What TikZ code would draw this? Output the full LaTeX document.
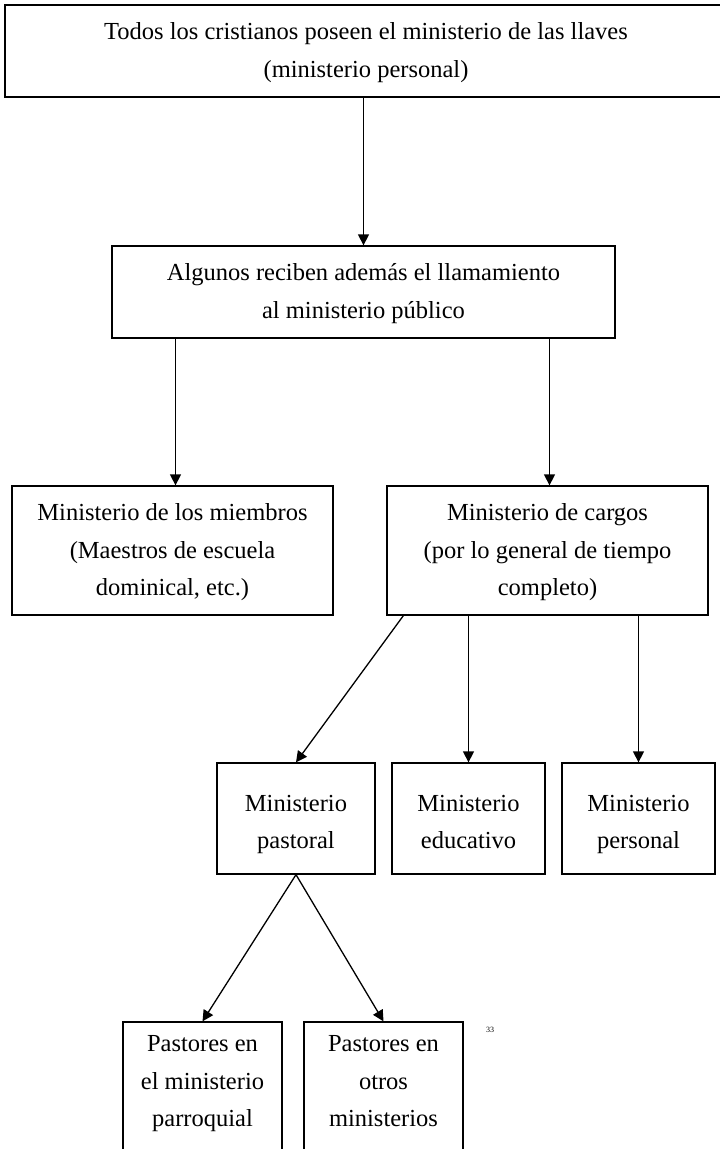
\documentclass[tikz,border=0pt]{standalone}
\usepackage{fontspec}
\setmainfont{Liberation Serif}
\usepackage{tikz}
\usetikzlibrary{arrows.meta,positioning,calc}

\begin{document}
\begin{tikzpicture}[x=1pt,y=-1pt,
    caja/.style={draw, line width=1.3pt, inner sep=0pt, align=center,
      font=\fontsize{24.5}{37.5}\selectfont},
    flecha/.style={line width=1.3pt, -{Triangle[length=11pt,width=11pt]}}]
  \useasboundingbox (0,0) rectangle (720,1149);
  \clip (0,0) rectangle (720,1149);

  \node[caja, minimum width=722pt, minimum height=92pt] (todos) at (366,51)
    {\strut Todos los cristianos poseen el ministerio de las llaves\\(ministerio personal)\strut};
  \node[caja, minimum width=503pt, minimum height=92pt] (alg) at (363.5,292)
    {\strut Algunos reciben además el llamamiento\\al ministerio público\strut};
  \node[caja, minimum width=321pt, minimum height=129pt] (miem) at (172.5,550.5)
    {\strut Ministerio de los miembros\\(Maestros de escuela\\dominical, etc.)\strut};
  \node[caja, minimum width=321pt, minimum height=129pt] (cargos) at (547.5,550.5)
    {\strut Ministerio de cargos\\(por lo general de tiempo\\completo)\strut};
  \node[caja, minimum width=158pt, minimum height=111pt] (past) at (296,818.5)
    {\rule{0pt}{34pt}Ministerio\\pastoral\strut};
  \node[caja, minimum width=153pt, minimum height=111pt] (educ) at (468.5,818.5)
    {\rule{0pt}{34pt}Ministerio\\educativo\strut};
  \node[caja, minimum width=153pt, minimum height=111pt] (pers) at (638.5,818.5)
    {\rule{0pt}{34pt}Ministerio\\personal\strut};
  \node[caja, minimum width=159pt, minimum height=130pt] (parr) at (202.5,1087)
    {Pastores en\\el ministerio\\parroquial\strut};
  \node[caja, minimum width=159pt, minimum height=130pt] (otros) at (383.5,1087)
    {Pastores en\\otros\\ministerios\strut};
  \node[font=\fontsize{8}{9}\selectfont, inner sep=0pt] (nota) at (490,1030) {33};

  \draw[flecha] (alg.north |- todos.south) -- (alg.north);
  \draw[flecha] ([xshift=3pt]miem.north |- alg.south) -- ([xshift=3pt]miem.north);
  \draw[flecha] ([xshift=2pt]cargos.north |- alg.south) -- ([xshift=2pt]cargos.north);
  \draw[flecha] ([xshift=17pt]cargos.south west) -- (past.north);
  \draw[flecha] (educ.north |- cargos.south) -- (educ.north);
  \draw[flecha] (pers.north |- cargos.south) -- (pers.north);
  \draw[flecha] (past.south) -- (parr.north);
  \draw[flecha] (past.south) -- (otros.north);
\end{tikzpicture}
\end{document}
